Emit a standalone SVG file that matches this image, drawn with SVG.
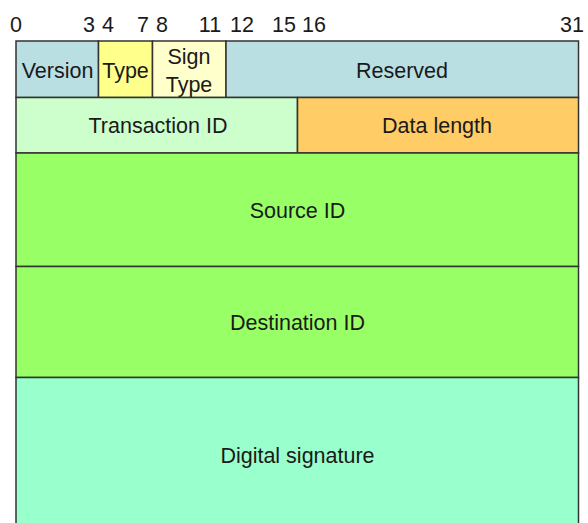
<svg xmlns="http://www.w3.org/2000/svg" width="588" height="523" viewBox="0 0 588 523">
  <style>
    .f { stroke: #333333; stroke-width: 1.5; }
    .t { font-family: "Liberation Sans", Arial, sans-serif; font-size: 21.5px; fill: #1a1a1a; text-anchor: middle; }
    .n { font-family: "Liberation Sans", Arial, sans-serif; font-size: 21.5px; fill: #1a1a1a; text-anchor: middle; }
  </style>
  <rect width="588" height="523" fill="#ffffff"/>

  <!-- bit offsets -->
  <g id="bit-scale">
    <text class="n" x="16" y="32">0</text>
    <text class="n" x="89" y="32">3</text>
    <text class="n" x="108" y="32">4</text>
    <text class="n" x="143" y="32">7</text>
    <text class="n" x="162" y="32">8</text>
    <text class="n" x="210" y="32">11</text>
    <text class="n" x="242" y="32">12</text>
    <text class="n" x="284" y="32">15</text>
    <text class="n" x="314" y="32">16</text>
    <text class="n" x="572" y="32">31</text>
  </g>

  <g id="version">
    <rect class="f" x="16" y="41" width="82.5" height="56.5" fill="#b9dfe2"/>
    <text class="t" x="57.5" y="77.5">Version</text>
  </g>
  <g id="type">
    <rect class="f" x="98.5" y="41" width="54" height="56.5" fill="#ffff8c"/>
    <text class="t" x="125.5" y="77.5">Type</text>
  </g>
  <g id="sign-type">
    <rect class="f" x="152.5" y="41" width="73.5" height="56.5" fill="#ffffcc"/>
    <text class="t" x="189" y="64">Sign</text>
    <text class="t" x="189" y="91.5">Type</text>
  </g>
  <g id="reserved">
    <rect class="f" x="226" y="41" width="352.5" height="56.5" fill="#b9dfe2"/>
    <text class="t" x="402" y="77.5">Reserved</text>
  </g>
  <g id="transaction-id">
    <rect class="f" x="16" y="97.5" width="281.5" height="55.5" fill="#ccffcc"/>
    <text class="t" x="158" y="132.5">Transaction ID</text>
  </g>
  <g id="data-length">
    <rect class="f" x="297.5" y="97.5" width="281" height="55.5" fill="#ffcc66"/>
    <text class="t" x="437" y="132.5">Data length</text>
  </g>
  <g id="source-id">
    <rect class="f" x="16" y="153" width="562.5" height="113.5" fill="#99ff66"/>
    <text class="t" x="297.5" y="218">Source ID</text>
  </g>
  <g id="destination-id">
    <rect class="f" x="16" y="266.5" width="562.5" height="111" fill="#99ff66"/>
    <text class="t" x="297.5" y="329.5">Destination ID</text>
  </g>
  <g id="digital-signature">
    <rect class="f" x="16" y="377.5" width="562.5" height="160" fill="#99ffcc"/>
    <text class="t" x="297.5" y="462.5">Digital signature</text>
  </g>

  <g id="connectors"></g>
</svg>
